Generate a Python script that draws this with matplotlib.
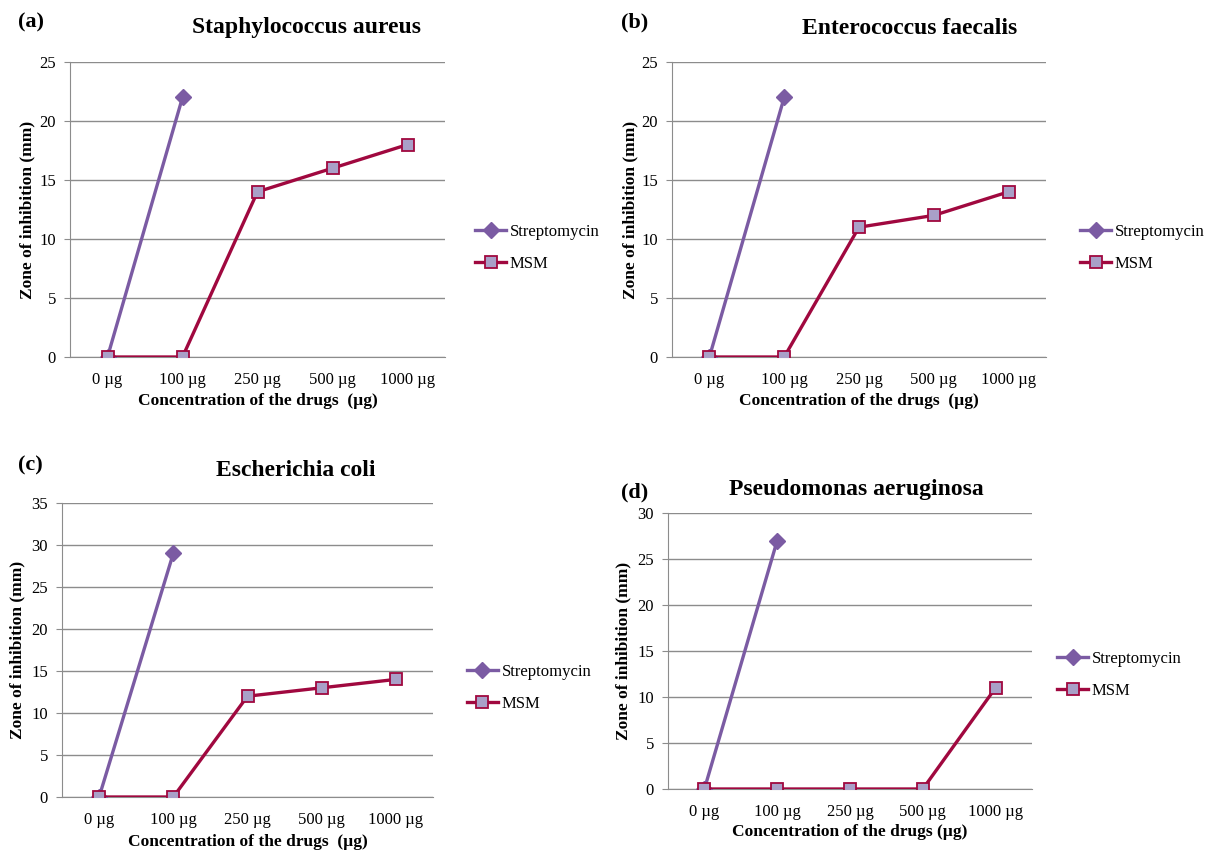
import numpy as np
import matplotlib
matplotlib.use("Agg")
import matplotlib.pyplot as plt

plt.rcParams['font.family'] = ['Liberation Serif', 'DejaVu Serif']

concentrations = ["0 µg", "100 µg", "250 µg", "500 µg", "1000 µg"]
organisms = ["Staphylococcus aureus", "Enterococcus faecalis",
             "Escherichia coli", "Pseudomonas aeruginosa"]
panel_tags = ["(a)", "(b)", "(c)", "(d)"]
strep_a = [0, 22]
strep_b = [0, 22]
strep_c = [0, 29]
strep_d = [0, 27]
msm_a = [0, 0, 14, 16, 18]
msm_b = [0, 0, 11, 12, 14]
msm_c = [0, 0, 12, 13, 14]
msm_d = [0, 0, 0, 0, 11]
ymax = [25, 25, 35, 30]
xlabels = ["Concentration of the drugs  (µg)", "Concentration of the drugs  (µg)",
           "Concentration of the drugs  (µg)", "Concentration of the drugs (µg)"]

W, H = 1205, 850
fig = plt.figure(figsize=(W / 100, H / 100), dpi=100)

purple = '#7B5BA3'
red = '#A0083F'
lav = '#A9A0C8'
grid = '#8C8C8C'

# pixel boxes: left, top, right, bottom of plot area
boxes = [(70, 62, 445, 357), (672, 62, 1046, 357),
         (62, 503, 433, 797), (668, 513, 1032, 789)]
titles = [(307, 28), (910, 28), (296, 470), (856, 490)]
tags = [(18, 22), (621, 22), (18, 465), (621, 492)]
ylab_x = [27, 630, 17, 623]
xlab_y = [401, 401, 842, 832]
legend_pos = [(468, 248), (1073, 248), (460, 688), (1050, 675)]

strep = [strep_a, strep_b, strep_c, strep_d]
msm = [msm_a, msm_b, msm_c, msm_d]

for i in range(4):
    l, t, r, b = boxes[i]
    ax = fig.add_axes([l / W, 1 - b / H, (r - l) / W, (b - t) / H])
    x = np.arange(len(concentrations))
    ax.plot(x[:len(strep[i])], strep[i], color=purple, lw=2.4, marker='D',
            ms=8.5, mfc=purple, mec=purple, label='Streptomycin', zorder=3)
    ax.plot(x, msm[i], color=red, lw=2.4, marker='s', ms=9, mfc=lav,
            mec=red, mew=1.3, label='MSM', zorder=4)
    ax.set_xlim(-0.5, 4.5)
    ax.set_ylim(0, ymax[i])
    ax.set_yticks(np.arange(0, ymax[i] + 1, 5))
    ax.set_xticks(x)
    ax.set_xticklabels(concentrations)
    ax.yaxis.grid(True, color=grid, lw=1)
    ax.set_axisbelow(True)
    for s in ['top', 'right']:
        ax.spines[s].set_visible(False)
    ax.spines['left'].set_color(grid)
    ax.spines['bottom'].set_color(grid)
    ax.tick_params(axis='x', length=0, labelsize=12, pad=11)
    ax.tick_params(axis='y', length=4, color=grid, labelsize=12, pad=6)
    ax.set_ylabel("Zone of inhibition (mm)", fontsize=12.5, fontweight='bold')
    ax.yaxis.set_label_coords((ylab_x[i] - l) / (r - l), 0.5)
    ax.yaxis.label.set_va('center')
    ax.set_xlabel(xlabels[i], fontsize=12.5, fontweight='bold')
    ax.xaxis.set_label_coords(0.5, -(xlab_y[i] - b) / (b - t))
    ax.xaxis.label.set_va('center')
    fig.text(titles[i][0] / W, 1 - titles[i][1] / H, organisms[i],
             fontsize=17, fontweight='bold', ha='center', va='center')
    fig.text(tags[i][0] / W, 1 - tags[i][1] / H, panel_tags[i],
             fontsize=16, fontweight='bold', ha='left', va='center')
    lx, ly = legend_pos[i]
    fig.legend(handles=ax.get_lines(), loc='center left',
               bbox_to_anchor=(lx / W, 1 - ly / H), frameon=False,
               fontsize=12, handlelength=1.9, handletextpad=0.2,
               labelspacing=0.95, borderaxespad=0)

fig.savefig("out.png", dpi=100)
